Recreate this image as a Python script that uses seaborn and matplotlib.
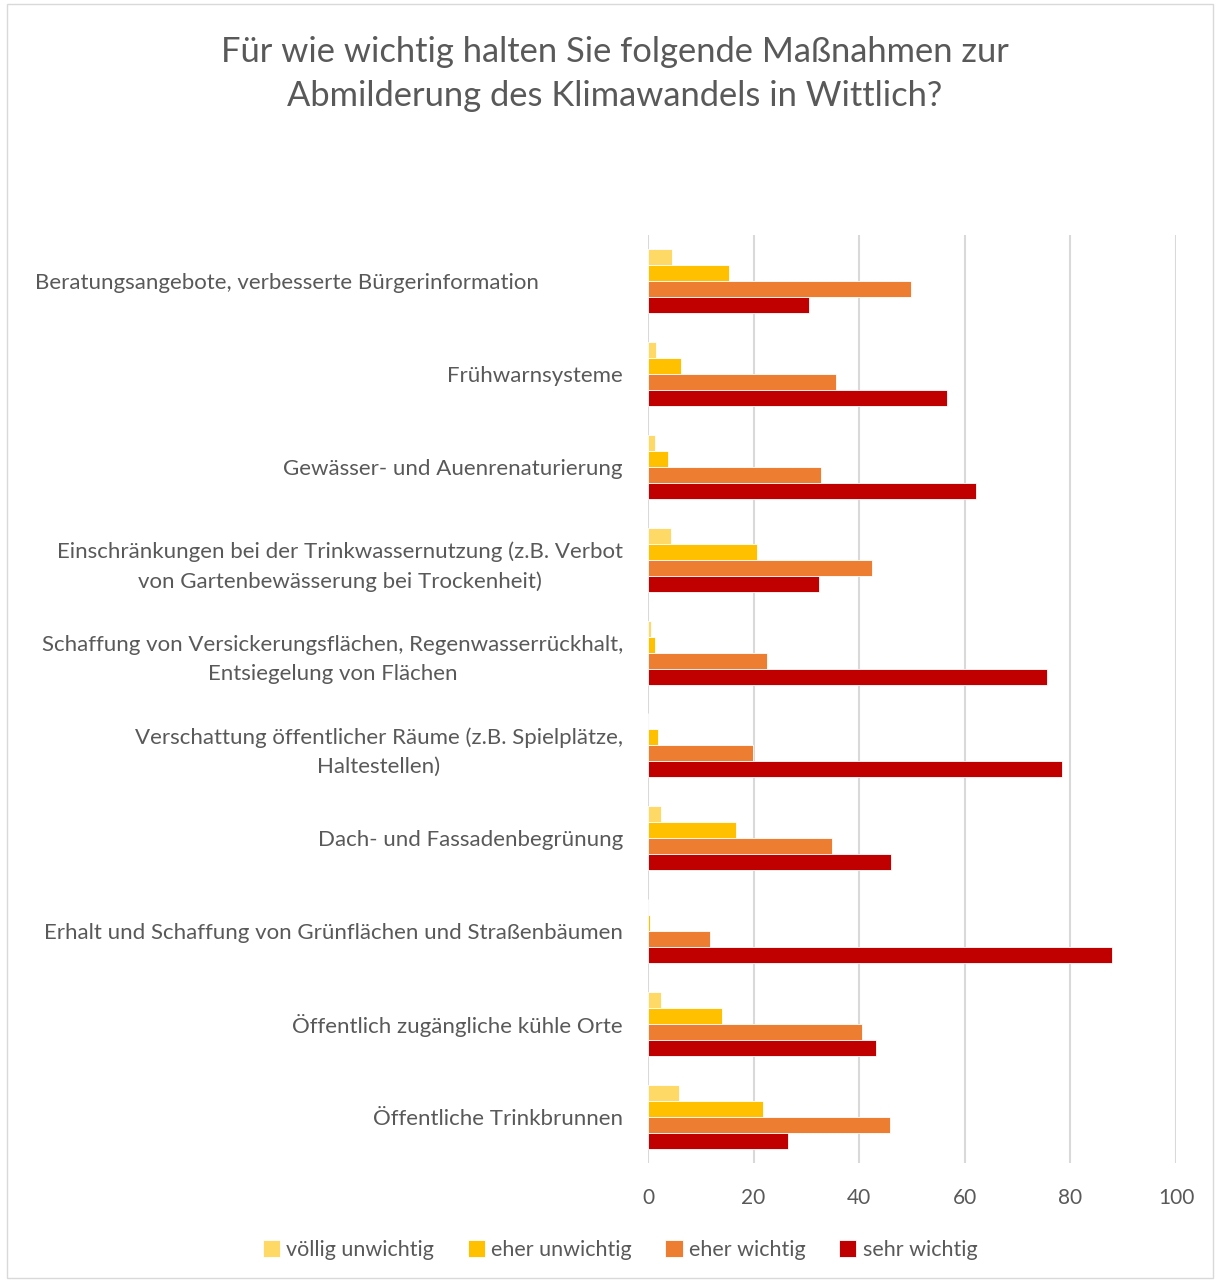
import matplotlib.pyplot as plt
import matplotlib.transforms as mtransforms
import pandas as pd
import seaborn as sns
from matplotlib.patches import Rectangle

# Daten (Prozent), von oben nach unten
massnahmen = [
    "Beratungsangebote, verbesserte Bürgerinformation",
    "Frühwarnsysteme",
    "Gewässer- und Auenrenaturierung",
    "Einschränkungen bei der Trinkwassernutzung (z.B. Verbot\nvon Gartenbewässerung bei Trockenheit)",
    "Schaffung von Versickerungsflächen, Regenwasserrückhalt,\nEntsiegelung von Flächen",
    "Verschattung öffentlicher Räume (z.B. Spielplätze,\nHaltestellen)",
    "Dach- und Fassadenbegrünung",
    "Erhalt und Schaffung von Grünflächen und Straßenbäumen",
    "Öffentlich zugängliche kühle Orte",
    "Öffentliche Trinkbrunnen",
]
voellig_unwichtig = [4.5, 1.5, 1.3, 4.4, 0.5, 0.0, 2.4, 0.0, 2.4, 5.9]
eher_unwichtig = [15.4, 6.2, 3.7, 20.7, 1.4, 1.8, 16.7, 0.4, 14.0, 21.7]
eher_wichtig = [49.8, 35.6, 32.7, 42.5, 22.5, 19.9, 34.9, 11.8, 40.6, 45.9]
sehr_wichtig = [30.4, 56.6, 62.1, 32.4, 75.6, 78.5, 46.1, 87.8, 43.1, 26.6]

stufen = ["völlig unwichtig", "eher unwichtig", "eher wichtig", "sehr wichtig"]
farben = ["#FFD966", "#FFC000", "#ED7D31", "#C00000"]

df = pd.DataFrame({
    "Maßnahme": massnahmen * 4,
    "Stufe": [s for s in stufen for _ in massnahmen],
    "Wert": voellig_unwichtig + eher_unwichtig + eher_wichtig + sehr_wichtig,
})

sns.set_theme(style="white")
plt.rcParams["font.family"] = ["Lato", "DejaVu Sans"]
grau = "#595959"

fig = plt.figure(figsize=(12.21, 12.82), dpi=100)
ax = fig.add_axes([648 / 1221, 1 - 1163 / 1282, 528 / 1221, (1163 - 235) / 1282])

sns.barplot(data=df, y="Maßnahme", x="Wert", hue="Stufe", order=massnahmen,
            hue_order=stufen, palette=farben, saturation=1, orient="h", width=0.69,
            edgecolor="white", linewidth=0.6, ax=ax, zorder=3)

ax.set_xlim(0, 100)
ax.set_xticks(range(0, 101, 20))
ax.grid(axis="x", color="#d9d9d9", linewidth=1.5, zorder=0)
ax.set_axisbelow(True)
for s in ax.spines.values():
    s.set_visible(False)
ax.set_xlabel("")
ax.set_ylabel("")
ax.tick_params(axis="x", length=0, pad=18, labelsize=15, labelcolor=grau)
ax.tick_params(axis="y", length=0, pad=18, labelsize=16, labelcolor=grau)
for lbl in ax.get_yticklabels():
    lbl.set_multialignment("center")
    lbl.set_linespacing(1.6)

# erste Beschriftung steht im Original etwas weiter links
erste = ax.get_yticklabels()[0]
erste.set_transform(erste.get_transform() +
                    mtransforms.ScaledTranslation(-0.84, 0, fig.dpi_scale_trans))

fig.suptitle("Für wie wichtig halten Sie folgende Maßnahmen zur\nAbmilderung des Klimawandels in Wittlich?",
             x=615 / 1221, y=1 - 36 / 1282, fontsize=24.8, color=grau, va="top", linespacing=1.45)

handles, labels = ax.get_legend_handles_labels()
ax.legend_.remove()
fig.legend(handles, labels, loc="center", bbox_to_anchor=(620 / 1221, 1 - 1250 / 1282),
           ncol=4, frameon=False, fontsize=15.5, labelcolor=grau, handlelength=0.8,
           handleheight=0.8, handletextpad=0.3, columnspacing=1.55)

fig.patches.append(Rectangle((7 / 1221, 4 / 1282), 1206 / 1221, 1274 / 1282, transform=fig.transFigure,
                             fill=False, edgecolor="#d9d9d9", linewidth=1))

fig.savefig("out.png", dpi=100)
